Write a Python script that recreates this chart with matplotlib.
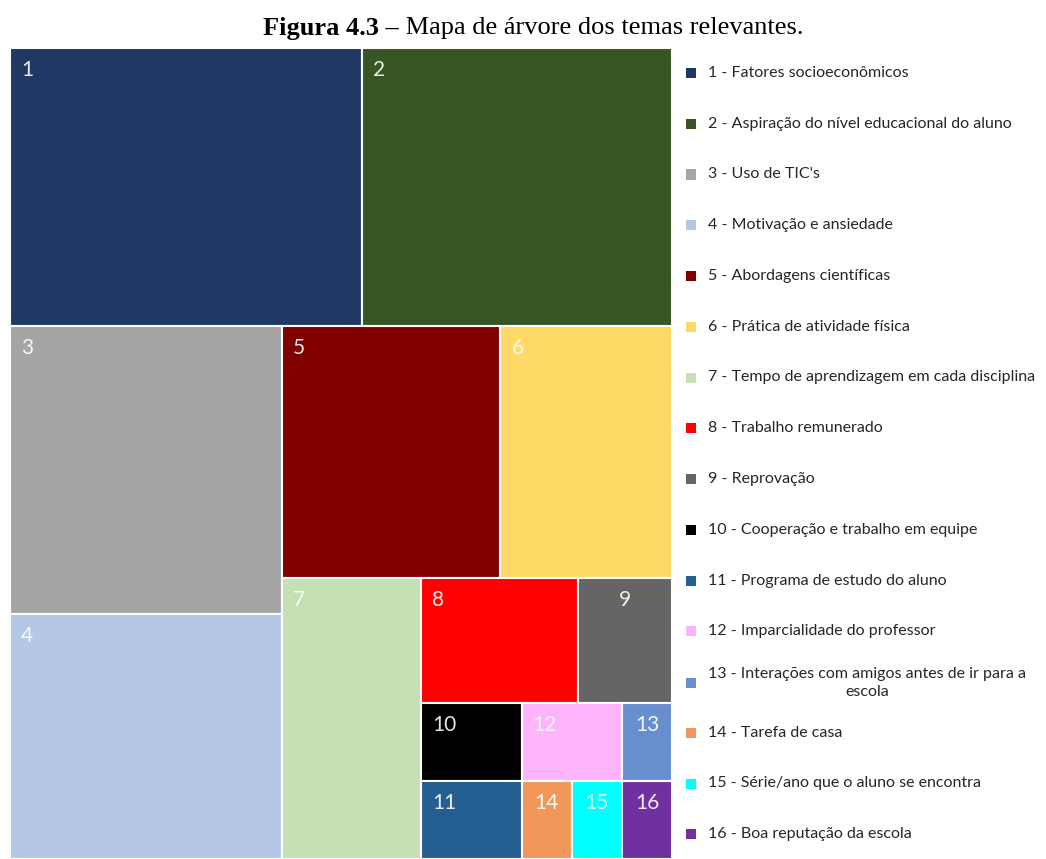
import numpy as np
import matplotlib.pyplot as plt
from matplotlib.patches import Rectangle

# theme counts (read from the rectangle areas)
ids = list(range(1, 17))
counts = [25, 22, 20, 17, 14, 11, 10, 5, 3, 2, 2, 2, 1, 1, 1, 1]
names = [
    "Fatores socioeconômicos",
    "Aspiração do nível educacional do aluno",
    "Uso de TIC's",
    "Motivação e ansiedade",
    "Abordagens científicas",
    "Prática de atividade física",
    "Tempo de aprendizagem em cada disciplina",
    "Trabalho remunerado",
    "Reprovação",
    "Cooperação e trabalho em equipe",
    "Programa de estudo do aluno",
    "Imparcialidade do professor",
    "Interações com amigos antes de ir para a\nescola",
    "Tarefa de casa",
    "Série/ano que o aluno se encontra",
    "Boa reputação da escola",
]
colors = [
    "#203864", "#375623", "#A5A5A5", "#B4C7E7", "#800000", "#FFD966",
    "#C5E0B4", "#FF0000", "#656565", "#000000", "#255E91", "#FFB3FA",
    "#698ED0", "#F1975A", "#00FFFF", "#7030A0",
]


def worst(row, side):
    s = sum(row)
    return max(max(side * side * r / (s * s), s * s / (side * side * r)) for r in row)


def squarify(vals, x, y, dx, dy):
    # squarified treemap, y grows downwards
    if len(vals) == 0:
        return []
    if len(vals) == 1:
        return [(x, y, dx, dy)]
    side = min(dx, dy)
    i = 1
    while i < len(vals) and worst(vals[:i], side) >= worst(vals[:i + 1], side):
        i += 1
    row = vals[:i]
    s = sum(row)
    rects = []
    if dx >= dy:
        w = s / dy
        yy = y
        for v in row:
            h = v / w
            rects.append((x, yy, w, h))
            yy += h
        return rects + squarify(vals[i:], x + w, y, dx - w, dy)
    else:
        h = s / dx
        xx = x
        for v in row:
            w = v / h
            rects.append((xx, y, w, h))
            xx += w
        return rects + squarify(vals[i:], x, y + h, dx, dy - h)


W, H = 662.0, 811.0
total = sum(counts)
scaled = [c * W * H / total for c in counts]
rects = squarify(scaled, 0, 0, W, H)

fig = plt.figure(figsize=(10.46, 8.59), dpi=100)
ax = fig.add_axes([10 / 1046, 0, W / 1046, H / 859])
ax.set_xlim(0, W)
ax.set_ylim(H, 0)
ax.axis("off")

for (x, y, w, h), num, col in zip(rects, ids, colors):
    ax.add_patch(Rectangle((x, y), w, h, facecolor=col, edgecolor="white", linewidth=1.5))
    if w < 97:
        tx, ha = x + w / 2, "center"
    else:
        tx, ha = x + 11, "left"
    ax.text(tx, y + 12, str(num), ha=ha, va="top", color="white",
            fontsize=15, family="Lato", alpha=0.9)

# legend
for i, (num, name, col) in enumerate(zip(ids, names, colors)):
    yc = 73 + i * 50.75
    if "\n" in name:
        yc += 1
    fig.patches.append(Rectangle((686 / 1046, 1 - (yc + 5) / 859), 10 / 1046, 10 / 859,
                                 facecolor=col, edgecolor="none",
                                 transform=fig.transFigure, figure=fig))
    fig.text(708 / 1046, 1 - yc / 859, f"{num} - {name}", ha="left", va="center",
             multialignment="center", fontsize=11.5, family="Lato", color="#262626",
             linespacing=1.4)

# title: bold part + regular part, centered together
t1 = fig.text(0, 1 - 28 / 859, "Figura 4.3 \u2013", fontsize=19, family="Liberation Serif",
              weight="bold", va="center", ha="left")
t2 = fig.text(0, 1 - 28 / 859, " Mapa de árvore dos temas relevantes.", fontsize=19,
              family="Liberation Serif", va="center", ha="left")
fig.canvas.draw()
r = fig.canvas.get_renderer()
w1 = t1.get_window_extent(r).width
w2 = t2.get_window_extent(r).width
x0 = 533 - (w1 + w2) / 2
t1.set_x(x0 / 1046)
t2.set_x((x0 + w1) / 1046)

fig.savefig("out.png", dpi=100, facecolor="white")
